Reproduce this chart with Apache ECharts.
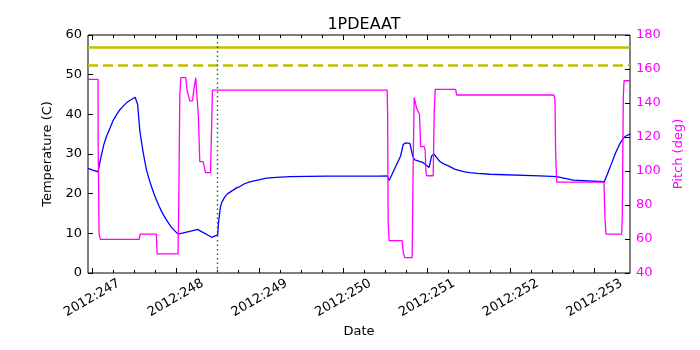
<!DOCTYPE html>
<html>
<head>
<meta charset="utf-8">
<script src="https://cdn.jsdelivr.net/npm/echarts@6/dist/echarts.min.js"></script>
<style>html,body{margin:0;padding:0;background:#fff}#c{width:700px;height:350px}</style>
</head>
<body>
<div id="c"></div>
<script>
// ---- data (day of year 2012, fractional) ----
const titleText = '1PDEAAT';
const dayTicks = [247, 248, 249, 250, 251, 252, 253];
const xMin = 246.952, xMax = 253.424;

const tempDays = [246.952, 247.000, 247.072, 247.090, 247.112, 247.140, 247.172, 247.200, 247.251, 247.290,
  247.331, 247.370, 247.411, 247.450, 247.490, 247.515, 247.538,
  247.545, 247.550, 247.570, 247.590, 247.609, 247.630, 247.650, 247.680, 247.710, 247.740, 247.769,
  247.800, 247.829, 247.860, 247.889, 247.920, 247.949, 247.980, 248.027,
  248.167, 248.260, 248.430, 248.500, 248.512, 248.534, 248.550, 248.585, 248.620, 248.685, 248.720,
  248.765, 248.820, 248.884, 248.950, 249.084, 249.200, 249.362, 249.800, 250.437, 250.524, 250.548,
  250.685, 250.716, 250.740, 250.796, 250.828, 250.855, 250.955, 251.026, 251.055, 251.082,
  251.154, 251.200, 251.274, 251.330, 251.393, 251.450, 251.513, 251.600, 251.752, 252.349,
  252.548, 252.747, 253.117, 253.160, 253.205, 253.250, 253.305, 253.340, 253.364, 253.400, 253.424];
const tempVals = [26.4, 26.0, 25.5, 27.5, 29.7, 32.3, 34.4, 35.8, 38.4, 39.8,
  41.1, 42.0, 42.9, 43.5, 44.0, 44.3, 44.6,
  42.5, 41.1, 36.0, 33.2, 30.6, 28.2, 26.0, 23.8, 21.8, 20.0, 18.4,
  16.9, 15.6, 14.4, 13.4, 12.4, 11.5, 10.8, 9.8,
  10.5, 11.0, 9.0, 9.6, 13.0, 16.7, 17.8, 19.2, 20.0, 20.9, 21.4,
  21.8, 22.5, 23.0, 23.3, 23.9, 24.1, 24.3, 24.4, 24.4, 24.5, 23.3,
  29.5, 32.4, 32.8, 32.7, 29.5, 28.5, 27.8, 26.6, 29.5, 30.0,
  28.1, 27.5, 26.8, 26.2, 25.8, 25.5, 25.3, 25.1, 24.9, 24.5,
  24.3, 23.4, 23.0, 25.3, 27.7, 30.2, 32.7, 33.8, 34.4, 34.8, 35.0];

const pitchDays = [246.952, 247.072, 247.073, 247.080, 247.084, 247.095, 247.100,
  247.562, 247.575, 247.769, 247.777, 248.027, 248.036, 248.048, 248.060, 248.119, 248.135, 248.150,
  248.167, 248.200, 248.215, 248.239, 248.259, 248.271, 248.287, 248.326, 248.338, 248.355, 248.415,
  248.427, 248.438, 250.524, 250.530, 250.536, 250.548, 250.704, 250.716, 250.736, 250.823,
  250.835, 250.847, 250.867, 250.876, 250.895, 250.910, 250.924, 250.967, 250.978, 250.987, 250.995,
  251.074, 251.086, 251.098, 251.342, 251.354, 252.516, 252.528, 252.536, 252.548, 253.113,
  253.125, 253.137, 253.325, 253.332, 253.344, 253.353, 253.424];
const pitchVals = [153.9, 153.9, 118.6, 118.6, 63.0, 63.0, 59.8,
  59.8, 62.9, 62.9, 51.2, 51.2, 81.0, 143.7, 154.9, 154.9, 147.6, 146.6,
  141.3, 141.3, 147.6, 154.9, 154.9, 131.0, 105.5, 105.5, 103.0, 99.0, 99.0,
  123.1, 147.6, 147.6, 133.0, 71.2, 59.0, 59.0, 52.0, 49.0, 49.0,
  104.5, 143.3, 143.3, 136.9, 134.9, 133.5, 114.3, 114.3, 112.4, 99.6, 97.2,
  97.2, 134.0, 148.0, 148.0, 144.7, 144.7, 141.8, 111.4, 93.4, 93.4,
  72.2, 62.9, 62.9, 72.8, 143.7, 153.1, 153.1];

const planningLimit = 57;
const cautionLimit = 52.5;
const eventDay = 248.505;

// ---- build ----
const quarterTicks = [];
for (let d = dayTicks[0]; d <= xMax; d += 0.25) quarterTicks.push(+d.toFixed(2));

const tempData = tempDays.map((d, i) => [d, tempVals[i]]);
const pitchData = pitchDays.map((d, i) => [d, pitchVals[i]]);

const FONT = 'DejaVu Sans';
function xAx(pos, ticks, len, labels) {
  return {
    type: 'value', min: xMin, max: xMax, position: pos, gridIndex: 0,
    axisLine: { show: false },
    splitLine: { show: false },
    axisTick: { show: true, inside: true, length: len, customValues: ticks, lineStyle: { color: '#000', width: 1 } },
    axisLabel: labels ? {
      show: true, customValues: dayTicks, formatter: v => '2012:' + v,
      rotate: 30, align: 'center', verticalAlign: 'middle', margin: 25,
      fontSize: 13, color: '#000', fontFamily: FONT
    } : { show: false },
    name: labels ? 'Date' : '', nameLocation: 'middle', nameGap: 52,
    nameTextStyle: { fontSize: 13, color: '#000', fontFamily: FONT }
  };
}

const chart = echarts.init(document.getElementById('c'), null, { renderer: 'canvas' });
chart.setOption({
  animation: false,
  backgroundColor: '#fff',
  title: {
    text: titleText, left: 359, top: 12, textAlign: 'center',
    textStyle: { fontSize: 16, fontWeight: 'normal', color: '#000', fontFamily: FONT }
  },
  grid: { left: 88, right: 70, top: 35, bottom: 77, show: true, borderColor: '#000', borderWidth: 1, backgroundColor: 'transparent' },
  xAxis: [
    xAx('bottom', dayTicks, 5, true),
    xAx('bottom', quarterTicks, 3, false),
    xAx('top', dayTicks, 5, false),
    xAx('top', quarterTicks, 3, false)
  ],
  yAxis: [
    {
      type: 'value', min: 0, max: 60, interval: 10, position: 'left',
      axisLine: { show: false }, splitLine: { show: false },
      axisTick: { show: true, inside: true, length: 5, lineStyle: { color: '#000' } },
      axisLabel: { margin: 6, fontSize: 13, color: '#000', fontFamily: FONT },
      name: 'Temperature (C)', nameLocation: 'middle', nameGap: 31,
      nameTextStyle: { fontSize: 13, color: '#000', fontFamily: FONT }
    },
    {
      type: 'value', min: 40, max: 180, interval: 20, position: 'right',
      axisLine: { show: false }, splitLine: { show: false },
      axisTick: { show: true, inside: true, length: 5, lineStyle: { color: '#000' } },
      axisLabel: { margin: 6, fontSize: 13, color: '#ff00ff', fontFamily: FONT },
      name: 'Pitch (deg)', nameLocation: 'middle', nameGap: 37,
      nameTextStyle: { fontSize: 13, color: '#ff00ff', fontFamily: FONT }
    }
  ],
  series: [
    {
      type: 'line', name: 'temp', xAxisIndex: 0, yAxisIndex: 0, data: tempData,
      showSymbol: false, symbol: 'none', smooth: false,
      lineStyle: { color: '#0000ff', width: 1.3 },
      markLine: {
        silent: true, symbol: 'none', animation: false,
        label: { show: false },
        data: [
          { yAxis: planningLimit, lineStyle: { color: '#bfbf00', width: 2.6, type: 'solid' } },
          { yAxis: cautionLimit, lineStyle: { color: '#bfbf00', width: 2.6, type: [10, 5] } },
          { xAxis: eventDay, lineStyle: { color: '#008000', width: 1.4, type: [1.5, 3] } }
        ]
      }
    },
    {
      type: 'line', name: 'pitch', xAxisIndex: 0, yAxisIndex: 1, data: pitchData,
      showSymbol: false, symbol: 'none', smooth: false,
      lineStyle: { color: '#ff00ff', width: 1.3 }
    }
  ]
});
</script>
</body>
</html>
